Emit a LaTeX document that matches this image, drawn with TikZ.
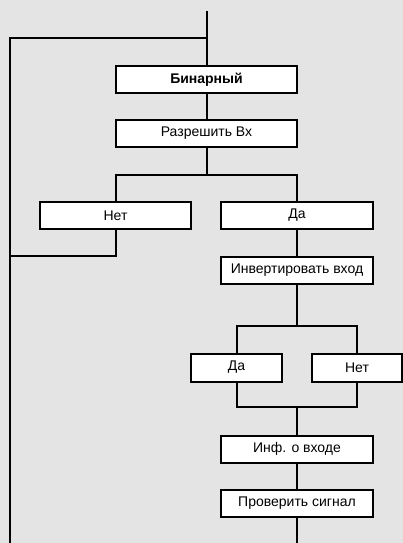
\documentclass[tikz,border=0pt]{standalone}
\usepackage{fontspec}
\setmainfont{Liberation Sans}
\usetikzlibrary{positioning,calc}
\definecolor{panelgrey}{HTML}{E4E4E4}

\begin{document}
\begin{tikzpicture}[x=1pt,y=-1pt,
    menubox/.style={draw=black,line width=2pt,fill=white,minimum height=27pt,
                    inner sep=0pt,font=\fontsize{14}{16}\selectfont},
    wire/.style={line width=2pt,line join=miter}]
  \fill[panelgrey] (0,0) rectangle (403,543);
  \useasboundingbox (0,0) rectangle (403,543);
  % menu rungs
  \node[menubox,minimum width=181pt] (bin)  at (206.5,79.5)  {\bfseries Бинарный};
  \node[menubox,minimum width=181pt] (razr) at (206.5,133.5) {Разрешить Вх};
  \node[menubox,minimum width=151pt] (net)  at (115.5,215.5) {Нет};
  \node[menubox,minimum width=152pt] (da)   at (297,215.5)   {Да};
  \node[menubox,minimum width=152pt] (inv)  at (297,270)     {Инвертировать вход};
  \node[menubox,minimum width=91pt,minimum height=28pt] (da2)  at (236.5,367.5) {Да};
  \node[menubox,minimum width=90pt,minimum height=28pt] (net2) at (357,367.5)   {Нет};
  \node[menubox,minimum width=152pt] (inf)  at (297,449)     {Инф. о входе};
  \node[menubox,minimum width=152pt] (prov) at (297,503)     {Проверить сигнал};
  % free ends and forks
  \coordinate (top)     at (206.5,11);
  \coordinate (loop)    at (10,37.7);
  \coordinate (bottomL) at (10,543);
  \coordinate (bottomR) at (297,543);
  \coordinate (fork1)   at (206.5,175);
  \coordinate (netback) at (10,256);
  \coordinate (fork2)   at (297,326);
  \coordinate (join2)   at (297,407);
  % wires
  \draw[wire] (top) -- (bin.north);
  \draw[wire] (top |- loop) -- (loop) -- (bottomL);
  \draw[wire] (bin) -- (razr);
  \draw[wire] (razr.south) -- (fork1);
  \draw[wire] (net.north) |- (fork1) -| (da.north);
  \draw[wire] (net.south) |- (netback);
  \draw[wire] (da) -- (inv);
  \draw[wire] (inv.south) -- (fork2);
  \draw[wire] (da2.north) |- (fork2) -| (net2.north);
  \draw[wire] (da2.south) |- (join2) -| (net2.south);
  \draw[wire] (join2) -- (inf.north);
  \draw[wire] (inf) -- (prov);
  \draw[wire] (prov.south) -- (bottomR);
\end{tikzpicture}
\end{document}
